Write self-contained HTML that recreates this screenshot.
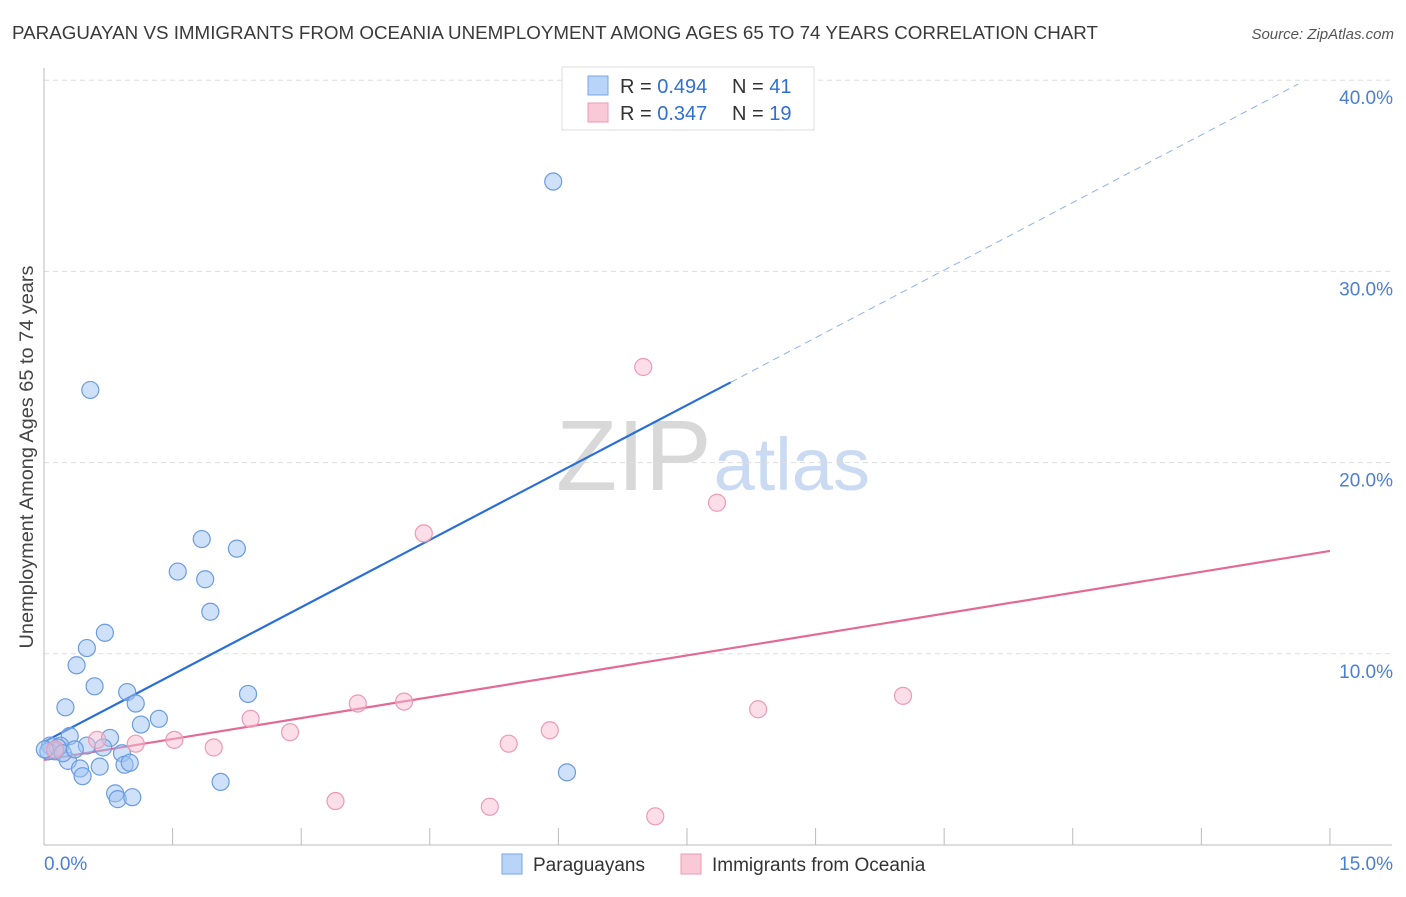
<!DOCTYPE html>
<html><head><meta charset="utf-8"><style>
body{margin:0;background:#fff;font-family:"Liberation Sans",sans-serif;}
svg text{font-family:"Liberation Sans",sans-serif;}
</style></head><body>
<svg id="chart" width="1406" height="892" xmlns="http://www.w3.org/2000/svg">
<text x="12" y="39" font-size="18" textLength="1086" lengthAdjust="spacingAndGlyphs" fill="#3a3a3a">PARAGUAYAN VS IMMIGRANTS FROM OCEANIA UNEMPLOYMENT AMONG AGES 65 TO 74 YEARS CORRELATION CHART</text>
<text x="1394" y="39" font-size="15" fill="#555" text-anchor="end" font-style="italic">Source: ZipAtlas.com</text>
<text x="556" y="490" font-size="100" fill="#ddd" font-family="Liberation Serif"><tspan fill="#d8d8d8">ZIP</tspan><tspan fill="#c9daf2" font-family="Liberation Sans" font-size="74" dx="2">atlas</tspan></text>
<text transform="translate(33,457) rotate(-90)" font-size="19" textLength="383" lengthAdjust="spacingAndGlyphs" fill="#444" text-anchor="middle">Unemployment Among Ages 65 to 74 years</text>
<g id="grid"></g><g id="axes"></g><g id="lines"></g><g id="pts"></g>
<g>
<rect x="562" y="67" width="252" height="63" fill="#fff" stroke="#ddd"/>
<rect x="588" y="76" width="20" height="19" fill="#b8d4f8" stroke="#7aa6e6"/>
<rect x="588" y="103" width="20" height="19" fill="#fac9d8" stroke="#ee9ab4"/>
<text x="620" y="93" font-size="20" fill="#333">R = <tspan fill="#2f6fd0">0.494</tspan></text>
<text x="732" y="93" font-size="20" fill="#333">N = <tspan fill="#2f6fd0">41</tspan></text>
<text x="620" y="120" font-size="20" fill="#333">R = <tspan fill="#2f6fd0">0.347</tspan></text>
<text x="732" y="120" font-size="20" fill="#333">N = <tspan fill="#2f6fd0">19</tspan></text>
</g>
<g>
<rect x="502" y="854" width="20" height="20" fill="#b8d4f8" stroke="#7aa6e6"/>
<text x="533" y="871" font-size="19" fill="#333">Paraguayans</text>
<rect x="681" y="854" width="20" height="20" fill="#fac9d8" stroke="#ee9ab4"/>
<text x="712" y="871" font-size="19" fill="#333">Immigrants from Oceania</text>
</g>
</svg>
<script>
const blueX=[5.94,0.54,1.84,2.25,1.56,1.88,1.94,0.71,0.50,0.38,0.59,0.97,2.38,1.07,0.25,1.34,1.13,0.77,0.30,0.50,0.69,0.91,0.19,0.07,0.13,0.28,0.42,0.65,0.94,1.00,0.45,2.06,6.10,0.83,0.86,1.03,0.05,0.16,0.01,0.22,0.36];
const blueY=[34.7,23.8,16.0,15.5,14.3,13.9,12.2,11.1,10.3,9.4,8.3,8.0,7.9,7.4,7.2,6.6,6.3,5.6,5.7,5.2,5.1,4.8,5.2,5.2,4.9,4.4,4.0,4.1,4.2,4.3,3.6,3.3,3.8,2.7,2.4,2.5,4.9,5.1,5.0,4.8,5.0];
const pinkX=[6.99,7.85,4.43,10.02,8.33,4.20,3.66,2.41,2.87,1.52,1.07,0.62,1.98,5.90,5.42,3.40,5.20,7.13,0.13];
const pinkY=[25.0,17.9,16.3,7.8,7.1,7.5,7.4,6.6,5.9,5.5,5.3,5.5,5.1,6.0,5.3,2.3,2.0,1.5,5.0];
const blueLine=[0,5.39,8.01,24.2,14.63,39.8];
const pinkLine=[0,4.45,15,15.38];
const xTicks=[0,1.5,3,4.5,6,7.5,9,10.5,12,13.5,15];
const yTicks=[10,20,30,40];
const yLabels=["10.0%","20.0%","30.0%","40.0%"];
const NS="http://www.w3.org/2000/svg";
const sx=v=>44+v*85.73, sy=v=>845-v*19.12;
function mk(p,t,a){const e=document.createElementNS(NS,t);for(const k in a)e.setAttribute(k,a[k]);document.getElementById(p).appendChild(e);return e;}
yTicks.forEach((t,i)=>{
 let g=mk('grid','line',{x1:44,x2:1392,y1:sy(t),y2:sy(t),stroke:'#ddd','stroke-dasharray':'5,4'});
 
 
 let l=mk('axes','text',{x:1393,y:sy(t)+24,'font-size':19,fill:'#4a7fd4','text-anchor':'end'});
 
 
 l.textContent=yLabels[i];
});
let ax=mk('axes','line',{x1:44,x2:44,y1:68,y2:845,stroke:'#bbb'});


let bx=mk('axes','line',{x1:44,x2:1392,y1:845,y2:845,stroke:'#bbb'});


xTicks.forEach(t=>{let k=mk('axes','line',{x1:sx(t),x2:sx(t),y1:828,y2:845,stroke:'#bbb'});
 
 });
let x0=mk('axes','text',{x:44,y:870,'font-size':19,fill:'#4a7fd4'});x0.textContent='0.0%';


let x1=mk('axes','text',{x:1393,y:870,'font-size':19,fill:'#4a7fd4','text-anchor':'end'});x1.textContent='15.0%';


blueX.forEach((x,i)=>{let c=mk('pts','circle',{cx:sx(x),cy:sy(blueY[i]),r:8.5,fill:'rgba(160,196,242,0.5)',stroke:'#6b9be0','stroke-width':1.2});
 
 });
pinkX.forEach((x,i)=>{let c=mk('pts','circle',{cx:sx(x),cy:sy(pinkY[i]),r:8.5,fill:'rgba(248,190,208,0.5)',stroke:'#ee9ab4','stroke-width':1.2});
 
 });
let b1=mk('lines','line',{x1:sx(blueLine[0]),y1:sy(blueLine[1]),x2:sx(blueLine[2]),y2:sy(blueLine[3]),stroke:'#2a6fd6','stroke-width':2.2});


let b2=mk('lines','line',{x1:sx(blueLine[2]),y1:sy(blueLine[3]),x2:sx(blueLine[4]),y2:sy(blueLine[5]),stroke:'#8fb2e6','stroke-width':1,'stroke-dasharray':'7,5'});


let p1=mk('lines','line',{x1:sx(pinkLine[0]),y1:sy(pinkLine[1]),x2:sx(pinkLine[2]),y2:sy(pinkLine[3]),stroke:'#e46a96','stroke-width':2.2});


</script>
</body></html>
